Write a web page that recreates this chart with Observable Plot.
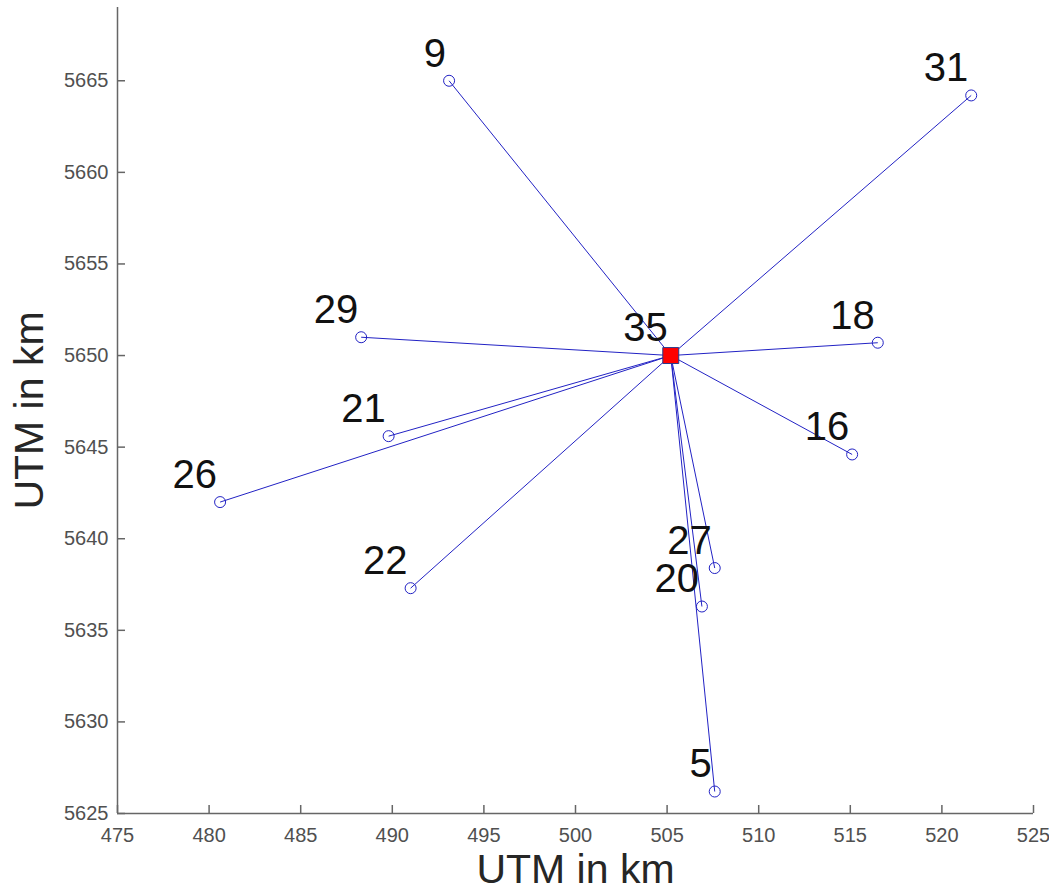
<!DOCTYPE html>
<html><head><meta charset="utf-8">
<script src="https://cdn.jsdelivr.net/npm/d3@7"></script>
<script src="https://cdn.jsdelivr.net/npm/@observablehq/plot@0.6"></script>
<style>html,body{margin:0;padding:0;background:#fff;}</style>
</head><body><div id="chart"></div>
<script>
const stationIds = ["9", "31", "29", "18", "21", "16", "26", "22", "27", "20", "5"];
const stationX = [493.1, 521.6, 488.3, 516.5, 489.8, 515.1, 480.6, 491.0, 507.6, 506.9, 507.6];
const stationY = [5665.0, 5664.2, 5651.0, 5650.7, 5645.6, 5644.6, 5642.0, 5637.3, 5638.4, 5636.3, 5626.2];
const centerId = "35";
const centerX = 505.2;
const centerY = 5650.0;
const xTicks = [475, 480, 485, 490, 495, 500, 505, 510, 515, 520, 525];
const yTicks = [5625, 5630, 5635, 5640, 5645, 5650, 5655, 5660, 5665];
const xDomain = [475, 525];
const yDomain = [5625, 5669];
const xTitle = "UTM in km";
const yTitle = "UTM in km";

const stations = stationIds.map((id, i) => ({id, x: stationX[i], y: stationY[i]}));
const center = [{id: centerId, x: centerX, y: centerY}];
const allPts = stations.concat(center);

const lineColor = "#2222c4";
const axisColor = "#666666";
const tickText = "#505050";

const chart = Plot.plot({
  width: 1049,
  height: 894,
  marginLeft: 117,
  marginRight: 16,
  marginTop: 7,
  marginBottom: 81,
  style: {fontFamily: "'Liberation Sans', Arial, Helvetica, sans-serif", background: "#fff", overflow: "visible"},
  x: {domain: xDomain},
  y: {domain: yDomain},
  marks: [
    Plot.ruleY([yDomain[0]], {stroke: axisColor, strokeWidth: 1.5}),
    Plot.ruleX([xDomain[0]], {stroke: axisColor, strokeWidth: 1.5}),
    Plot.axisX({ticks: xTicks, tickSize: -8, tickFormat: () => "", label: null, stroke: axisColor, strokeWidth: 1.5}),
    Plot.axisY({ticks: yTicks, tickSize: -8, tickFormat: () => "", label: null, stroke: axisColor, strokeWidth: 1.5}),
    Plot.axisX({ticks: xTicks, tickSize: 0, tickPadding: 14, fontSize: 20, color: tickText, label: null, tickFormat: d => String(d)}),
    Plot.axisY({ticks: yTicks, tickSize: 0, tickPadding: 9, fontSize: 20, color: tickText, label: null, tickFormat: d => String(d)}),
    Plot.link(stations, {x1: () => centerX, y1: () => centerY, x2: "x", y2: "y", stroke: lineColor, strokeWidth: 1}),
    Plot.dot(stations, {x: "x", y: "y", r: 5.5, stroke: lineColor, strokeWidth: 1, fill: "none"}),
    Plot.dot(center, {x: "x", y: "y", symbol: "square", r: 9, fill: "#ff0000", stroke: "#2a3a8a", strokeWidth: 1}),
    Plot.text(allPts, {x: "x", y: "y", text: "id", textAnchor: "end", dx: -3, dy: -27, fontSize: 40, fill: "#111"}),
    Plot.text([xTitle], {frameAnchor: "bottom", textAnchor: "middle", lineAnchor: "middle", dy: 56, fontSize: 41, fill: "#262626"}),
    Plot.text([yTitle], {frameAnchor: "left", textAnchor: "middle", lineAnchor: "middle", rotate: -90, dx: -88, fontSize: 41, fill: "#262626"})
  ]
});
document.getElementById("chart").appendChild(chart);
</script>
</body></html>
